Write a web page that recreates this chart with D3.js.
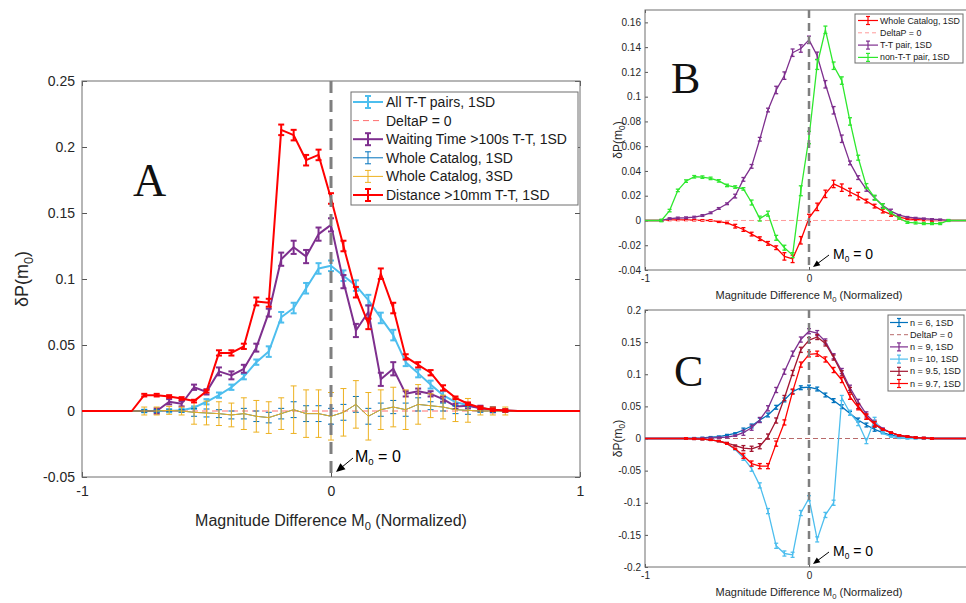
<!DOCTYPE html>
<html><head><meta charset="utf-8">
<script src="https://cdn.jsdelivr.net/npm/d3@7"></script>
<style>
body{margin:0;background:#fff}
svg{display:block}
text{font-family:Arial,"Liberation Sans",Helvetica,sans-serif;fill:#262626}
</style>
</head><body>
<svg id="c" width="966" height="603"></svg>
<script>
// ---------- DATA ----------
const bins = [-1,-0.95,-0.9,-0.85,-0.8,-0.75,-0.7,-0.65,-0.6,-0.55,-0.5,-0.45,-0.4,-0.35,-0.3,-0.25,-0.2,-0.15,-0.1,-0.05,0,0.05,0.1,0.15,0.2,0.25,0.3,0.35,0.4,0.45,0.5,0.55,0.6,0.65,0.7,0.75,0.8,0.85,0.9,0.95,1];
const _ = null;

// Panel A
const aAllTT = [0,0,0,0,0,0,0,0,0.0005,0.0025,0.007,0.012,0.018,0.026,0.037,0.045,0.071,0.078,0.093,0.108,0.110,0.1025,0.095,0.084,0.0705,0.0575,0.037,0.0285,0.020,0.012,0.0068,0.0043,0.0023,0.001,0.0005,0,0,0,0,0,0];
const aAllTTErr = [_,_,_,_,_,0.001,0.001,0.001,0.001,0.001,0.002,0.002,0.002,0.002,0.002,0.004,0.004,0.004,0.004,0.004,0.004,0.004,0.004,0.004,0.004,0.004,0.003,0.003,0.003,0.003,0.003,0.001,0.001,0.001,0.001,_,_,_,_,_,_];
const aWait = [0,0,0,0,0,0,0,0.007,0.0055,0.018,0.0145,0.030,0.027,0.032,0.048,0.0745,0.115,0.124,0.117,0.134,0.141,0.098,0.061,0.075,0.024,0.032,0.013,0.015,0.013,0.009,0.0035,0.004,0.002,0.001,0,0,0,0,0,0,0];
const aWaitErr = [_,_,_,_,_,_,0.002,0.002,0.002,0.002,0.002,0.003,0.003,0.003,0.003,0.003,0.005,0.005,0.005,0.005,0.005,0.005,0.005,0.005,0.005,0.005,0.002,0.002,0.002,0.002,0.002,0.002,0.002,0.002,_,_,_,_,_,_,_];
const aCatalog = [0,0,0,0,0,0,0,0.0005,0,-0.001,-0.0015,-0.002,-0.003,-0.002,-0.004,-0.005,-0.002,0.001,-0.002,-0.002,-0.004,-0.001,0.005,-0.004,0.001,0.003,0.001,0.005,0.004,0.003,0.001,0.0005,0,0,0,0,0,0,0,0,0];
const aCat1SD = [_,_,_,_,_,0.001,0.001,0.001,0.001,0.003,0.003,0.003,0.003,0.004,0.004,0.004,0.004,0.006,0.006,0.006,0.006,0.006,0.006,0.006,0.005,0.005,0.005,0.005,0.003,0.003,0.003,0.003,0.001,0.001,0.001,_,_,_,_,_,_];
const aCat3SD = [_,_,_,_,_,0.003,0.003,0.003,0.003,0.009,0.009,0.009,0.009,0.012,0.012,0.012,0.012,0.018,0.018,0.018,0.018,0.018,0.018,0.018,0.015,0.015,0.015,0.015,0.009,0.009,0.009,0.009,0.003,0.003,0.003,_,_,_,_,_,_];
const aDist = [0,0,0,0,0,0.012,0.012,0.011,0.0095,0.0075,0.015,0.044,0.044,0.049,0.083,0.082,0.213,0.209,0.19,0.194,0.161,0.125,0.090,0.066,0.104,0.078,0.041,0.035,0.029,0.0175,0.010,0.0055,0.0025,0.001,0.0004,0,0,0,0,0,0];
const aDistErr = [_,_,_,_,_,0.001,0.001,0.001,0.001,0.001,0.001,0.002,0.002,0.002,0.003,0.003,0.004,0.004,0.004,0.004,0.004,0.004,0.004,0.004,0.004,0.004,0.002,0.002,0.002,0.002,0.001,0.001,0.001,0.001,0.001,_,_,_,_,_,_];
const aYTicks = [-0.05,0,0.05,0.1,0.15,0.2,0.25];
const aYLabels = ["-0.05","0","0.05","0.1","0.15","0.2","0.25"];
const aXTicks = [-1,0,1];
const aXLabels = ["-1","0","1"];
const aLegend = ["All T-T pairs, 1SD","DeltaP = 0","Waiting Time >100s T-T, 1SD","Whole Catalog, 1SD","Whole Catalog, 3SD","Distance >10mm T-T, 1SD"];

// Panel B
const bWhole = [0,0,0,0.0005,0.0005,0.0005,0.0003,0.0001,0,-0.001,-0.002,-0.0046,-0.0073,-0.011,-0.0147,-0.0185,-0.022,-0.029,-0.031,-0.016,0.002,0.011,0.0215,0.0295,0.0265,0.023,0.0197,0.0157,0.0116,0.0076,0.0049,0.0027,0.0013,0.0008,0.0003,0,0,0,0,0,0];
const bWholeErr = [_,_,0.0006,0.0006,0.0006,0.0006,0.0006,0.0006,0.0006,0.0006,0.0006,0.0015,0.0015,0.0015,0.0015,0.0015,0.0015,0.003,0.003,0.003,0.003,0.003,0.003,0.003,0.003,0.003,0.003,0.0015,0.0015,0.0015,0.0015,0.0015,0.0006,0.0006,0.0006,0.0006,_,_,_,_,_];
const bTT = [0,0,0,0.0015,0.002,0.0022,0.0027,0.004,0.0062,0.0097,0.0135,0.0197,0.0332,0.0437,0.0656,0.0892,0.1054,0.117,0.1355,0.1389,0.1459,0.133,0.110,0.089,0.066,0.0465,0.0346,0.0251,0.0184,0.0121,0.0076,0.0043,0.0027,0.002,0.0015,0.001,0.0007,0,0,0,0];
const bTTErr = [_,_,0.0007,0.0007,0.0007,0.0007,0.0007,0.0007,0.0007,0.0007,0.0007,0.0015,0.0015,0.0015,0.0015,0.0015,0.003,0.003,0.003,0.003,0.003,0.003,0.003,0.003,0.003,0.0015,0.0015,0.0015,0.0015,0.0015,0.0015,0.0005,0.0005,0.0005,0.0005,0.0005,0.0005,0.0005,_,_,_];
const bNonTT = [0,0,0,0.008,0.0243,0.0318,0.0353,0.035,0.034,0.032,0.0283,0.027,0.0255,0.0145,0.0015,0.0055,-0.014,-0.022,-0.028,0.024,0.067,0.126,0.154,0.125,0.113,0.080,0.0507,0.0278,0.0184,0.0116,0.0062,0.0018,-0.0015,-0.002,-0.0025,-0.0025,-0.0025,0,0,0,0];
const bNonTTErr = [_,_,0.001,0.001,0.001,0.001,0.001,0.001,0.001,0.001,0.001,0.001,0.001,0.002,0.002,0.002,0.002,0.002,0.002,0.004,0.005,0.004,0.003,0.003,0.003,0.003,0.002,0.002,0.002,0.002,0.0008,0.0008,0.0008,0.0008,0.0008,0.0008,0.0008,0.0008,_,_,_];
const bYTicks = [-0.04,-0.02,0,0.02,0.04,0.06,0.08,0.1,0.12,0.14,0.16];
const bYLabels = ["-0.04","-0.02","0","0.02","0.04","0.06","0.08","0.1","0.12","0.14","0.16"];
const bcXTicks = [-1,0];
const bcXLabels = ["-1","0"];
const bLegend = ["Whole Catalog, 1SD","DeltaP = 0","T-T pair, 1SD","non-T-T pair, 1SD"];

// Panel C
const cN6 = [0,0,0,0,0,0,0.0005,0.001,0.002,0.003,0.0054,0.008,0.0132,0.0195,0.0288,0.0366,0.0486,0.060,0.073,0.079,0.080,0.077,0.0677,0.059,0.0495,0.039,0.0288,0.021,0.0143,0.009,0.0054,0.003,0.002,0.001,0.0005,0,0,0,0,0,0];
const cN9 = [0,0,0,0,0,0,0.0003,0.0005,0.001,0.0015,0.002,0.0044,0.009,0.0168,0.0288,0.047,0.0755,0.104,0.132,0.154,0.167,0.164,0.151,0.128,0.105,0.079,0.057,0.0375,0.0245,0.0155,0.009,0.005,0.003,0.0015,0.0008,0,0,0,0,0,0];
const cN10 = [0,0,0,0,0,0,-0.0005,-0.001,-0.002,-0.004,-0.008,-0.017,-0.030,-0.047,-0.073,-0.113,-0.167,-0.179,-0.181,-0.116,-0.093,-0.157,-0.119,-0.100,0.063,0.040,0.024,-0.004,0.029,0.008,0.003,0.001,0,0,0,0,0,0,0,0,0];
const cN95 = [0,0,0,0,0,0,-0.0005,-0.001,-0.002,-0.004,-0.007,-0.011,-0.015,-0.016,-0.012,0.003,0.028,0.063,0.102,0.138,0.153,0.158,0.148,0.126,0.1015,0.0755,0.0506,0.034,0.0226,0.014,0.009,0.005,0.003,0.0015,0.0007,0,0,0,0,0,0];
const cN97 = [0,0,0,0,0,0,-0.0005,-0.001,-0.002,-0.004,-0.008,-0.016,-0.027,-0.039,-0.043,-0.043,-0.008,0.025,0.073,0.115,0.131,0.132,0.123,0.1066,0.091,0.065,0.0486,0.034,0.022,0.014,0.009,0.005,0.003,0.0015,0.0007,0,0,0,0,0,0];
const cErrSmall = [_,_,_,_,_,0.001,0.001,0.001,0.001,0.001,0.001,0.001,0.003,0.003,0.003,0.003,0.003,0.003,0.003,0.003,0.003,0.003,0.003,0.003,0.003,0.003,0.003,0.003,0.003,0.001,0.001,0.001,0.001,0.001,0.001,0.001,_,_,_,_,_];
const cErrBig = [_,_,_,_,_,0.001,0.001,0.001,0.001,0.001,0.001,0.001,0.004,0.004,0.004,0.004,0.004,0.004,0.004,0.004,0.004,0.004,0.004,0.004,0.004,0.004,0.004,0.004,0.004,0.001,0.001,0.001,0.001,0.001,0.001,0.001,_,_,_,_,_];
const cYTicks = [-0.2,-0.15,-0.1,-0.05,0,0.05,0.1,0.15,0.2];
const cYLabels = ["-0.2","-0.15","-0.1","-0.05","0","0.05","0.1","0.15","0.2"];
const cLegend = ["n = 6, 1SD","DeltaP = 0","n = 9, 1SD","n = 10, 1SD","n = 9.5, 1SD","n = 9.7, 1SD"];

// ---------- DRAW ----------
const svg = d3.select('#c');

function subText(g, x, y, parts, size, opts={}) {
  const t = g.append('text').attr('x', x).attr('y', y).attr('font-size', size)
    .attr('text-anchor', opts.anchor || 'middle');
  if (opts.rotate) t.attr('transform', `rotate(-90,${x},${y})`);
  parts.forEach(p => {
    if (p.sub) {
      t.append('tspan').text(p.t).attr('font-size', size*0.7).attr('dy', size*0.25);
    } else {
      t.append('tspan').text(p.t).attr('dy', p.after ? -size*0.25 : 0);
    }
  });
  return t;
}

function drawPanel(p) {
  const g = svg.append('g');
  const x = d3.scaleLinear().domain([-1,1]).range([p.left, p.right]);
  const y = d3.scaleLinear().domain(p.yDomain).range([p.bottom, p.top]);
  const tl = p.tickLen;
  const styleAxis = sel => {
    sel.select('.domain').remove();
    sel.selectAll('line').attr('stroke', '#555');
    sel.selectAll('text').attr('font-size', p.tickFont).style('fill', '#262626');
    sel.attr('font-family', null);
  };
  g.append('g').attr('transform', `translate(0,${p.bottom})`)
    .call(d3.axisBottom(x).tickValues(p.xTicks).tickFormat((d,i)=>p.xLabels[i]).tickSize(-tl).tickSizeOuter(0).tickPadding(p.xPad))
    .call(styleAxis);
  g.append('g').attr('transform', `translate(0,${p.top})`)
    .call(d3.axisTop(x).tickValues(p.xTicks).tickFormat('').tickSize(-tl).tickSizeOuter(0)).call(styleAxis);
  g.append('g').attr('transform', `translate(${p.left},0)`)
    .call(d3.axisLeft(y).tickValues(p.yTicks).tickFormat((d,i)=>p.yLabels[i]).tickSize(-tl).tickSizeOuter(0).tickPadding(p.yPad))
    .call(styleAxis);
  g.append('g').attr('transform', `translate(${p.right},0)`)
    .call(d3.axisRight(y).tickValues(p.yTicks).tickFormat('').tickSize(-tl).tickSizeOuter(0)).call(styleAxis);
  g.append('rect').attr('x', p.left).attr('y', p.top).attr('width', p.right-p.left).attr('height', p.bottom-p.top)
    .attr('fill', 'none').attr('stroke', '#6e6e6e').attr('stroke-width', 1);

  const line = d3.line().x((d,i)=>x(bins[i])).y(d=>y(d));
  p.series.forEach(s => {
    if (s.ref) {
      g.append('line').attr('x1', x(-1)).attr('x2', x(1)).attr('y1', y(0)).attr('y2', y(0))
        .attr('stroke', s.color).attr('stroke-width', s.width).attr('stroke-dasharray', s.dash);
      return;
    }
    g.append('path').attr('d', line(s.vals)).attr('fill', 'none').attr('stroke', s.color)
      .attr('stroke-width', s.width).attr('stroke-linejoin', 'round');
    const eb = g.append('g').attr('stroke', s.color).attr('stroke-width', s.width);
    s.errs.forEach((e,i) => {
      if (e === null) return;
      const v = s.vals[i];
      const cx = x(bins[i]), y1 = y(v - e), y2 = y(v + e);
      eb.append('line').attr('x1', cx).attr('x2', cx).attr('y1', y1).attr('y2', y2);
      eb.append('line').attr('x1', cx-p.cap).attr('x2', cx+p.cap).attr('y1', y1).attr('y2', y1);
      eb.append('line').attr('x1', cx-p.cap).attr('x2', cx+p.cap).attr('y1', y2).attr('y2', y2);
    });
  });

  // vertical dashed M0=0 line
  g.append('line').attr('x1', x(0)).attr('x2', x(0)).attr('y1', p.top).attr('y2', p.bottom)
    .attr('stroke', '#7f7f7f').attr('stroke-width', p.vWidth).attr('stroke-dasharray', p.vDash);

  // annotation arrow + text
  const tipX = x(0) + p.arrow[0], tipY = p.bottom - p.arrow[1];
  const tailX = tipX + p.arrow[2], tailY = tipY - p.arrow[3];
  const ang = Math.atan2(tipY - tailY, tipX - tailX);
  const ah = p.arrow[4], aw = p.arrow[5];
  g.append('line').attr('x1', tailX).attr('y1', tailY)
    .attr('x2', tipX - Math.cos(ang)*ah*0.8).attr('y2', tipY - Math.sin(ang)*ah*0.8)
    .attr('stroke', '#000').attr('stroke-width', 1);
  const pts = [[tipX, tipY],
    [tipX - Math.cos(ang)*ah + Math.sin(ang)*aw, tipY - Math.sin(ang)*ah - Math.cos(ang)*aw],
    [tipX - Math.cos(ang)*ah - Math.sin(ang)*aw, tipY - Math.sin(ang)*ah + Math.cos(ang)*aw]];
  g.append('polygon').attr('points', pts.map(q=>q.join(',')).join(' ')).attr('fill', '#000');
  const at = g.append('text').attr('x', tailX + p.annDx).attr('y', tailY + p.annDy).attr('font-size', p.annFont).style('fill', '#000');
  at.append('tspan').text('M');
  at.append('tspan').text('0').attr('font-size', p.annFont*0.6).attr('dy', p.annFont*0.2);
  at.append('tspan').text(' = 0').attr('dy', -p.annFont*0.2);

  // axis labels
  subText(g, p.xLabX, p.xLabY, [{t:'Magnitude Difference M'},{t:'0',sub:true},{t:' (Normalized)',after:true}], p.labFont);
  subText(g, p.yLabX, (p.top+p.bottom)/2, [{t:'δP(m'},{t:'0',sub:true},{t:')',after:true}], p.yLabFont, {rotate:true});

  // panel letter
  g.append('text').attr('x', p.letter[1]).attr('y', p.letter[2]).attr('font-size', p.letter[3])
    .style('font-family', '"Liberation Serif","DejaVu Serif","Times New Roman",serif').style('fill', '#111').text(p.letter[0]);

  // legend
  const L = p.legend;
  g.append('rect').attr('x', L.x).attr('y', L.y).attr('width', L.w).attr('height', L.h)
    .attr('fill', '#fff').attr('stroke', '#6e6e6e').attr('stroke-width', 1);
  const texts = [];
  L.items.forEach((it, k) => {
    const cy = L.y + L.first + k*L.step;
    const lg = g.append('g');
    lg.append('line').attr('x1', L.x + L.s0).attr('x2', L.x + L.s1).attr('y1', cy).attr('y2', cy)
      .attr('stroke', it.color).attr('stroke-width', it.width).attr('stroke-dasharray', it.dash || null);
    if (!it.dash) {
      const mx = L.x + (L.s0+L.s1)/2;
      lg.append('line').attr('x1', mx).attr('x2', mx).attr('y1', cy-L.eh).attr('y2', cy+L.eh).attr('stroke', it.color).attr('stroke-width', it.width);
      [cy-L.eh, cy+L.eh].forEach(yy => lg.append('line').attr('x1', mx-L.ec).attr('x2', mx+L.ec).attr('y1', yy).attr('y2', yy).attr('stroke', it.color).attr('stroke-width', it.width));
    }
    texts.push(lg.append('text').attr('x', L.x + L.tx).attr('y', cy).attr('dy', '0.35em').attr('font-size', L.font).style('fill', '#1a1a1a').text(it.label));
  });
  // shrink legend font if any label would overflow the box
  const avail = L.w - L.tx - 3;
  const maxW = d3.max(texts, t => t.node().getComputedTextLength());
  if (maxW > avail) texts.forEach(t => t.attr('font-size', L.font * avail / maxW));
}

const C = {cyan:'#4DBEEE', purple:'#7E2F8E', blue:'#0072BD', yellow:'#EDB120', red:'#FF0000', dred:'#A2142F', green:'#2EE82E'};

// Panel A
drawPanel({
  left:82, right:580, top:81, bottom:477, yDomain:[-0.05,0.25], yTicks:aYTicks, yLabels:aYLabels,
  xTicks:aXTicks, xLabels:aXLabels,
  tickLen:5, tickFont:14, xPad:9, yPad:7, cap:3,
  vWidth:3, vDash:'12,7', arrow:[5,5,17,14,9,4], annDx:2, annDy:4, annFont:16,
  xLabX:331, xLabY:526, labFont:16, yLabX:28, yLabFont:18,
  letter:['A',133,196,46],
  series:[
    {vals:aAllTT, errs:aAllTTErr, color:C.cyan, width:2},
    {ref:true, color:'#FF6F6F', width:1, dash:'6,4'},
    {vals:aWait, errs:aWaitErr, color:C.purple, width:2},
    {vals:aCatalog, errs:aCat1SD, color:C.blue, width:1},
    {vals:aCatalog, errs:aCat3SD, color:C.yellow, width:1},
    {vals:aDist, errs:aDistErr, color:C.red, width:2}
  ],
  legend:{x:351, y:92, w:227, h:113, first:10, step:18.6, s0:2, s1:32, tx:35, font:14, eh:6, ec:3,
    items:[
      {label:aLegend[0], color:C.cyan, width:2},
      {label:aLegend[1], color:'#FF6F6F', width:1, dash:'6,4'},
      {label:aLegend[2], color:C.purple, width:2},
      {label:aLegend[3], color:C.blue, width:1},
      {label:aLegend[4], color:C.yellow, width:1},
      {label:aLegend[5], color:C.red, width:2}
    ]}
});

// Panel B
drawPanel({
  left:645, right:973, top:10, bottom:270, yDomain:[-0.04,0.17], yTicks:bYTicks, yLabels:bYLabels,
  xTicks:bcXTicks, xLabels:bcXLabels,
  tickLen:3, tickFont:10, xPad:5, yPad:4, cap:2,
  vWidth:2.5, vDash:'8,5', arrow:[4,3,16,12,7,3], annDx:4, annDy:4, annFont:14,
  xLabX:809, xLabY:299, labFont:11, yLabX:622, yLabFont:12,
  letter:['B',671,93,44],
  series:[
    {vals:bWhole, errs:bWholeErr, color:C.red, width:1.3},
    {ref:true, color:'#FF9A9A', width:1, dash:'5,3'},
    {vals:bTT, errs:bTTErr, color:C.purple, width:1.3},
    {vals:bNonTT, errs:bNonTTErr, color:C.green, width:1.3}
  ],
  legend:{x:855, y:14, w:108, h:49, first:6.5, step:12.3, s0:3, s1:23, tx:25, font:9.8, eh:4, ec:2,
    items:[
      {label:bLegend[0], color:C.red, width:1.2},
      {label:bLegend[1], color:'#FF9A9A', width:1, dash:'4,3'},
      {label:bLegend[2], color:C.purple, width:1.2},
      {label:bLegend[3], color:C.green, width:1.2}
    ]}
});

// Panel C
drawPanel({
  left:645, right:973, top:310, bottom:567, yDomain:[-0.2,0.2], yTicks:cYTicks, yLabels:cYLabels,
  xTicks:bcXTicks, xLabels:bcXLabels,
  tickLen:3, tickFont:10, xPad:5, yPad:4, cap:2,
  vWidth:2.5, vDash:'8,5', arrow:[4,3,16,12,7,3], annDx:4, annDy:4, annFont:14,
  xLabX:809, xLabY:596, labFont:11, yLabX:622, yLabFont:12,
  letter:['C',674,386,44],
  series:[
    {vals:cN6, errs:cErrSmall, color:C.blue, width:1.3},
    {ref:true, color:'#B86A6A', width:1, dash:'5,3'},
    {vals:cN9, errs:cErrBig, color:C.purple, width:1.3},
    {vals:cN10, errs:cErrBig, color:C.cyan, width:1.3},
    {vals:cN95, errs:cErrBig, color:C.dred, width:1.3},
    {vals:cN97, errs:cErrBig, color:C.red, width:1.3}
  ],
  legend:{x:888, y:315, w:76, h:76, first:7.5, step:12.2, s0:2, s1:20, tx:22, font:9.5, eh:4, ec:2,
    items:[
      {label:cLegend[0], color:C.blue, width:1.2},
      {label:cLegend[1], color:'#B86A6A', width:1, dash:'4,3'},
      {label:cLegend[2], color:C.purple, width:1.2},
      {label:cLegend[3], color:C.cyan, width:1.2},
      {label:cLegend[4], color:C.dred, width:1.2},
      {label:cLegend[5], color:C.red, width:1.2}
    ]}
});
</script>
</body></html>
